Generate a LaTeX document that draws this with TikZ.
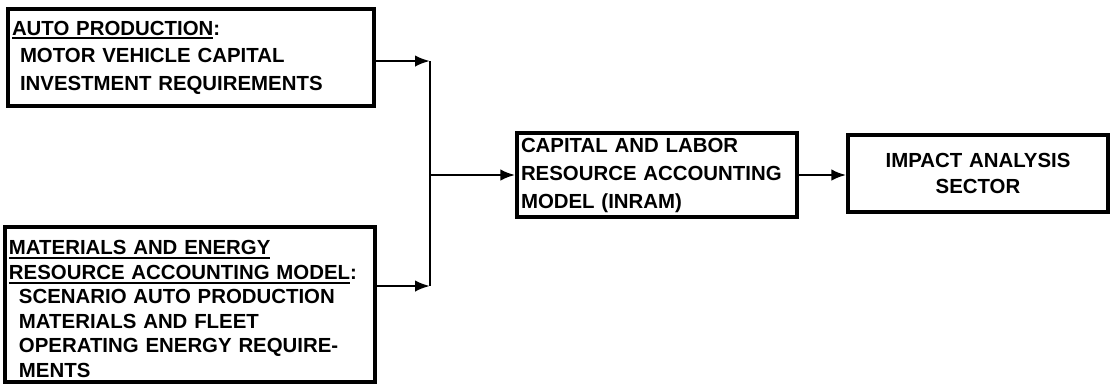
\documentclass[tikz,border=0pt]{standalone}
\usepackage{fontspec}
\setmainfont{Liberation Sans}
\usetikzlibrary{arrows.meta}

\newcommand{\ulhead}[1]{\leavevmode\setbox0\hbox{#1}\rlap{\rule[-2.2pt]{\wd0}{1pt}}\box0}

\begin{document}
\begin{tikzpicture}[
    x=0.5pt, y=-0.5pt,
    box/.style={draw, rectangle, line width=1.7pt, align=left, inner xsep=2pt, inner ysep=0pt,
      font=\fontsize{10.2}{13.6}\selectfont\bfseries},
    arrow/.style={-{Latex[length=7.5pt,width=5.8pt]}, line width=1.3pt},
    line/.style={line width=1.4pt},
]
\useasboundingbox (0,0) rectangle (1111,387);

% Entradas
\node[box, minimum width=183pt, minimum height=48.5pt, text width=179pt,
  font=\fontsize{10.2}{13.8}\selectfont\bfseries] (auto) at (191,57.5)
  {\ulhead{AUTO PRODUCTION}:\\
   \hspace*{4pt}MOTOR VEHICLE CAPITAL\\
   \hspace*{4pt}INVESTMENT REQUIREMENTS};
\node[box, minimum width=185pt, minimum height=77.5pt, text width=181pt,
  font=\fontsize{10.2}{12.3}\selectfont\bfseries] (mat) at (190,304.5)
  {\rule{0pt}{11.6pt}\ulhead{MATERIALS AND ENERGY}\\
   \ulhead{RESOURCE ACCOUNTING MODEL}:\\
   \hspace*{5pt}SCENARIO AUTO PRODUCTION\\
   \hspace*{5pt}MATERIALS AND FLEET\\
   \hspace*{5pt}OPERATING ENERGY REQUIRE-\\
   \hspace*{5pt}MENTS};

% Modelos
\node[box, minimum width=140pt, minimum height=42pt, text width=136pt,
  font=\fontsize{10.2}{14}\selectfont\bfseries] (inram) at (657,175)
  {CAPITAL AND LABOR\\RESOURCE ACCOUNTING\\MODEL (INRAM)};
\node[box, minimum width=130pt, minimum height=38.5pt, text width=126pt, align=center,
  font=\fontsize{10.2}{13}\selectfont\bfseries] (impact) at (978,173.5)
  {IMPACT ANALYSIS\\SECTOR};

% Conexões
\coordinate (jA) at (430,61);
\coordinate (jB) at (430,286);
\coordinate (jM) at (430,175);
\draw[arrow] (auto.east |- jA) -- (jA);
\draw[arrow] (mat.east |- jB) -- (jB);
\draw[line] (jA) -- (jB);
\draw[arrow] (jM) -- (inram.west);
\draw[arrow] (inram.east) -- (inram.east -| impact.west);
\end{tikzpicture}
\end{document}
